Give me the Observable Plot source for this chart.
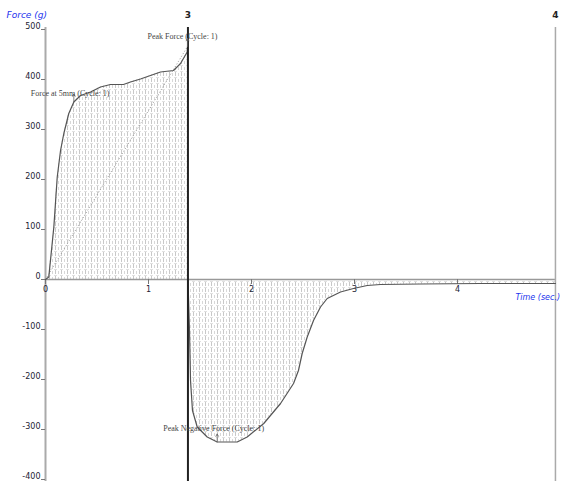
<!DOCTYPE html>
<html>
<head>
<meta charset="utf-8">
<script src="https://cdn.jsdelivr.net/npm/d3@7"></script>
<script src="https://cdn.jsdelivr.net/npm/@observablehq/plot@0.6"></script>
<style>
  html, body { margin: 0; padding: 0; background: #fff; }
  #chart { width: 565px; height: 481px; }
</style>
</head>
<body>
<div id="chart"></div>
<script>
// Texture analyser trace (Cycle 1)
const time = [0, 0.032, 0.081, 0.114, 0.146, 0.178, 0.226, 0.275, 0.340, 0.437, 0.534, 0.631, 0.757, 0.825, 0.922, 1.019, 1.117, 1.243, 1.311, 1.376, 1.379,
              1.383, 1.398, 1.408, 1.427, 1.473, 1.570, 1.667, 1.861, 1.958, 2.119, 2.282, 2.408, 2.456, 2.492, 2.541, 2.602, 2.670, 2.735, 2.864, 2.990, 3.123, 3.252, 3.641, 4.223, 4.951];
const force = [0, 5, 105, 205, 258, 292, 332, 355, 368, 375, 385, 390, 390, 395, 401, 408, 415, 418, 432, 455, 466,
               0, -102, -202, -262, -295, -315, -325, -325, -315, -288, -248, -208, -182, -148, -115, -82, -55, -38, -25, -18, -12, -10, -9, -8, -8];
const xTicks = [0, 1, 2, 3, 4];
const yTicks = [-400, -300, -200, -100, 0, 100, 200, 300, 400, 500];
const markerTimes = [1.383, 4.951];
const markerLabels = ["3", "4"];
const xTitle = "Time (sec.)";
const yTitle = "Force (g)";
const annotations = ["Peak Force (Cycle: 1)", "Force at 5mm (Cycle: 1)", "Peak Negative Force (Cycle: 1)"];

const data = time.map((t, i) => ({t, f: force[i]}));
const iPeak = d3.maxIndex(force);
const iNeg = d3.minIndex(force);
const i5mm = time.indexOf(0.275);
const notes = [
  {t: time[iPeak], f: force[iPeak], label: annotations[0], dx: -40, dy: -10},
  {t: time[i5mm], f: force[i5mm], label: annotations[1], dx: -43, dy: -9},
  {t: time[iNeg], f: force[iNeg], label: annotations[2], dx: -54, dy: -14}
];
const yTop = 504;
const yBottom = -404;
const pxX = 103; // pixels per time unit
const markers = markerTimes.map((t, i) => ({t, label: markerLabels[i]}));

const noteMarks = notes.map(n => Plot.text([n], {x: "t", y: "f", text: "label", dx: n.dx, dy: n.dy, textAnchor: "start", fontSize: 8, fill: "#444"}));

const chart = Plot.plot({
  width: 565,
  height: 481,
  marginLeft: 0, marginRight: 0, marginTop: 0, marginBottom: 0,
  x: {type: "linear", domain: [-45 / pxX, 520 / pxX], axis: null},
  y: {type: "linear", domain: [yBottom, 558], axis: null},
  style: {background: "#fff", fontFamily: "Liberation Serif, DejaVu Serif, serif"},
  marks: [
    // shaded areas (positive and negative work)
    Plot.areaY(data.slice(0, 21), {x: "t", y1: 0, y2: "f", fill: "url(#tapat)"}),
    Plot.areaY(data.slice(21), {x: "t", y1: 0, y2: "f", fill: "url(#tapat)"}),
    // gradient dotted line origin → peak
    Plot.link([{x1: 0, y1: 0, x2: time[iPeak], y2: force[iPeak]}], {x1: "x1", y1: "y1", x2: "x2", y2: "y2", stroke: "#999", strokeWidth: 1, strokeDasharray: "1,2"}),
    // axes lines
    Plot.ruleY([0], {x1: 0, x2: markerTimes[1], stroke: "#999", strokeWidth: 1.5}),
    Plot.ruleX([0], {y1: yBottom, y2: yTop, stroke: "#aaa", strokeWidth: 2}),
    // ticks
    Plot.ruleX(xTicks, {x: d => d, y1: 0, y2: -10, stroke: "#777", strokeWidth: 1}),
    Plot.ruleY(yTicks, {y: d => d, x1: -4 / pxX, x2: 0, stroke: "#777", strokeWidth: 1}),
    Plot.text(xTicks, {x: d => d, y: 0, text: d => String(d), dy: 10, fontSize: 8, fill: "#223", fontFamily: "DejaVu Sans"}),
    Plot.text(yTicks, {x: 0, y: d => d, text: d => String(d), dx: -5, dy: -3, textAnchor: "end", fontSize: 8, fill: "#223", fontFamily: "DejaVu Sans"}),
    // marker lines
    Plot.ruleX([markers[1]], {x: "t", y1: yBottom, y2: yTop, stroke: "#aaa", strokeWidth: 1.5}),
    // curve
    Plot.line(data, {x: "t", y: "f", stroke: "#555", strokeWidth: 1.2}),
    Plot.ruleX([markers[0]], {x: "t", y1: yBottom, y2: yTop, stroke: "#222", strokeWidth: 2}),
    Plot.text(markers, {x: "t", y: yTop, text: "label", dy: -12, fontSize: 9, fontWeight: "bold", fill: "#222", fontFamily: "DejaVu Sans"}),
    // annotations
    Plot.arrow(notes, {x1: "t", y1: "f", x2: "t", y2: d => d.f + 16, stroke: "#666", strokeWidth: 0.8, headLength: 5, bend: 0}),
    ...noteMarks,
    // axis titles
    Plot.text([yTitle], {frameAnchor: "top-left", text: d => d, dx: 6, dy: 11, fontSize: 9, fontStyle: "italic", fill: "#2233ee", fontFamily: "DejaVu Sans", textAnchor: "start"}),
    Plot.text([xTitle], {x: markerTimes[1], y: 0, text: d => d, dx: -40, dy: 18, fontSize: 8, fontStyle: "italic", fill: "#2233ee", fontFamily: "DejaVu Sans", textAnchor: "start"})
  ]
});

// fill pattern for the work areas
const svg = d3.select(chart);
const defs = svg.insert("defs", ":first-child");
const pat = defs.append("pattern").attr("id", "tapat").attr("patternUnits", "userSpaceOnUse").attr("width", 6).attr("height", 6);
pat.append("rect").attr("width", 6).attr("height", 6).attr("fill", "#fff");
pat.append("rect").attr("x", 1).attr("y", 0).attr("width", 1).attr("height", 4).attr("fill", "#c8c8c8");
pat.append("rect").attr("x", 4).attr("y", 1).attr("width", 1).attr("height", 3).attr("fill", "#d8d8d8");
pat.append("rect").attr("x", 0).attr("y", 5).attr("width", 3).attr("height", 1).attr("fill", "#e0e0e0");

document.getElementById("chart").appendChild(chart);
</script>
</body>
</html>
